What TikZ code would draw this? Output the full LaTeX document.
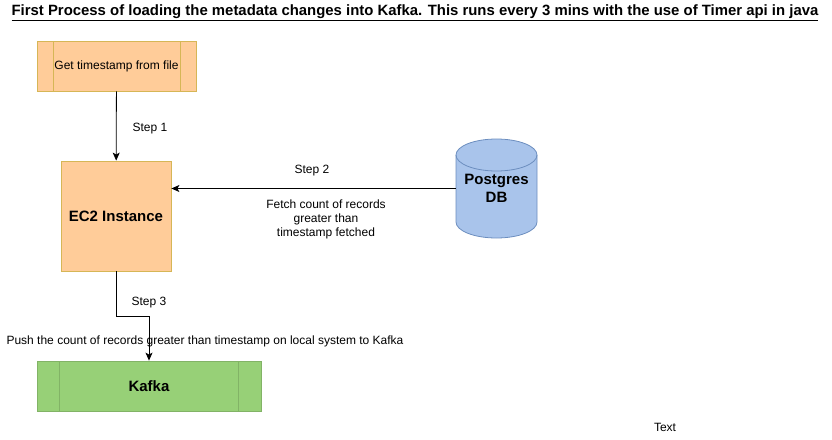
\documentclass[tikz,border=0pt]{standalone}
\usepackage{fontspec}
\setmainfont{Liberation Sans}
\usetikzlibrary{arrows.meta}
\definecolor{orfill}{HTML}{FFCC99}
\definecolor{orline}{HTML}{D6B656}
\definecolor{grfill}{HTML}{97D077}
\definecolor{grline}{HTML}{82B366}
\definecolor{blfill}{HTML}{A9C4EB}
\definecolor{blline}{HTML}{6C8EBF}

\begin{document}
\begin{tikzpicture}[x=1pt,y=-1pt,
    lbl/.style={font=\fontsize{12}{14}\selectfont, inner sep=0pt},
    box/.style={line width=0.8pt, inner sep=0pt, minimum height=50pt},
    bars/.style 2 args={path picture={
        \draw[#2, line width=0.8pt] ([xshift=#1]path picture bounding box.north west) -- ([xshift=#1]path picture bounding box.south west)
          ([xshift=-#1]path picture bounding box.north east) -- ([xshift=-#1]path picture bounding box.south east);}},
    link/.style={line width=0.8pt, -{Stealth[length=8pt,width=7pt,inset=2pt]}}]
 \useasboundingbox (0,0) rectangle (832,439);
 \node[inner sep=0pt, font=\fontsize{14.9}{17}\bfseries\selectfont] (title) at (415,13)
   {\underline{First Process of loading the metadata changes into Kafka. This runs every 3 mins with the use of Timer api in java}};
          \node[box, lbl, fill=orfill, draw=orline, minimum width=159pt, bars={16pt}{orline}] (ts) at (116.5,66) {Get timestamp from file};
          \node[box, fill=orfill, draw=orline, minimum width=110pt, minimum height=110pt, font=\fontsize{15}{18}\bfseries\selectfont] (ec2) at (116,216) {EC2 Instance};
          \node[box, fill=grfill, draw=grline, minimum width=224pt, bars={22.4pt}{grline}, font=\fontsize{15}{18}\bfseries\selectfont] (kafka) at (149,386) {Kafka};

          % postgres cylinder
          \filldraw[fill=blfill, draw=blline, line width=0.8pt] (456,155) -- (456,222) arc[start angle=180, end angle=360, x radius=40.5pt, y radius=16pt]
            -- (537,155) arc[start angle=0, end angle=180, x radius=40.5pt, y radius=16pt] -- cycle;
          \draw[blline, line width=0.8pt] (456,155) arc[start angle=180, end angle=360, x radius=40.5pt, y radius=16pt];
          \node[inner sep=0pt, minimum width=81pt, minimum height=99pt, align=center, font=\fontsize{15}{18}\bfseries\selectfont] (pg) at (496.5,188.5) {Postgres\\DB};

          \node[lbl] (step1) at (150,129) {Step 1};
          \node[lbl] (step2) at (312,171) {Step 2};
          \node[lbl, align=center] (fetch) at (326,219) {Fetch count of records\\greater than\\timestamp fetched};
          \node[lbl] (step3) at (149,303) {Step 3};
          \node[lbl] (push) at (205,341) {Push the count of records greater than timestamp on local system to Kafka};
          \node[lbl] (txt) at (665,427) {Text};

          \draw[link] (ts)--(ec2);
          \draw[link] (pg.west)--(ec2.east |- pg.west);
          \draw[link] (ec2.south)--++(0,45) -| (kafka.north);
          \end{tikzpicture}
\end{document}
